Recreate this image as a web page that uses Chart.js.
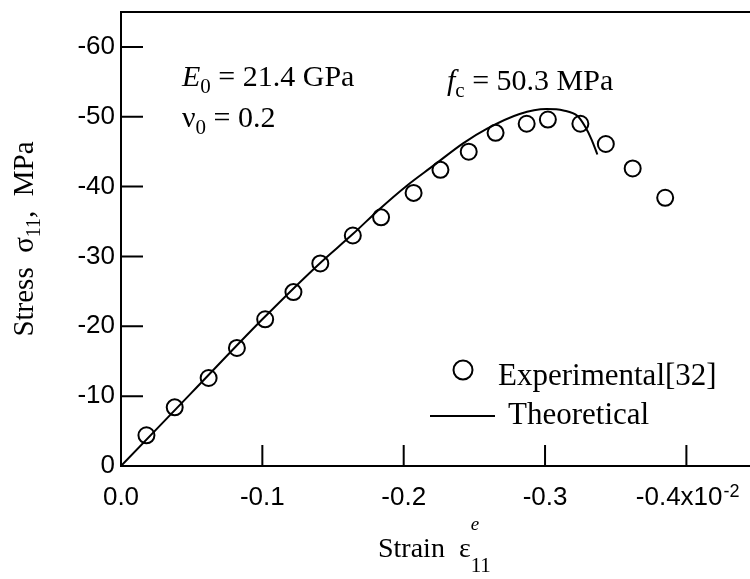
<!DOCTYPE html>
<html>
<head>
<meta charset="utf-8">
<script src="https://cdn.jsdelivr.net/npm/chart.js@4.4.1/dist/chart.umd.min.js"></script>
<style>
  html, body { margin: 0; padding: 0; background: #fff; overflow: hidden; }
  #wrap { width: 750px; height: 579px; overflow: hidden; }
</style>
</head>
<body>
<div id="wrap"><canvas id="stressChart" width="760" height="579"></canvas></div>
<script>
// experimental points (strain x10^-2, stress MPa, both shown as negative on the axes)
const expStrain = [0.018, 0.038, 0.062, 0.082, 0.102, 0.122, 0.141, 0.164, 0.184, 0.207, 0.226, 0.246, 0.265, 0.287, 0.302, 0.325, 0.343, 0.362, 0.385];
const expStress = [4.4, 8.4, 12.6, 16.9, 21.0, 24.9, 29.0, 33.0, 35.6, 39.1, 42.4, 45.0, 47.7, 49.0, 49.6, 49.0, 46.1, 42.6, 38.4];

// theoretical curve
const thStrain = [0, 0.05, 0.10, 0.14, 0.164, 0.183, 0.202, 0.221, 0.242, 0.259, 0.282, 0.301, 0.313, 0.323, 0.328, 0.333, 0.337];
const thStress = [0, 10.5, 21.0, 28.9, 33.2, 36.8, 40.1, 43.0, 46.2, 48.3, 50.4, 51.1, 50.9, 50.1, 48.7, 46.7, 44.6];

// axis ticks
const xTicks = [0, 0.1, 0.2, 0.3, 0.4];
const yTicks = [0, 10, 20, 30, 40, 50, 60];
const lastXText = '-0.4x10';
const lastXLabel = lastXText + '  ';   // room left at the end for the exponent
const xExponent = '-2';

const serif = '"Liberation Serif", "Times New Roman", serif';
const sans = '"Liberation Sans", Arial, sans-serif';

function toPoints(xs, ys) {
    return xs.map((x, i) => ({ x: x, y: ys[i] }));
}

// draws a run of text pieces one after another, each with its own font and vertical shift
function drawRich(ctx, parts, x, y) {
    let cx = x;
    parts.forEach(p => {
        ctx.font = p.font;
        ctx.fillText(p.t, cx, y + (p.dy || 0));
        if (!p.noAdvance) cx += ctx.measureText(p.t).width;
    });
    return cx - x;
}

function richWidth(ctx, parts) {
    let w = 0;
    parts.forEach(p => {
        ctx.font = p.font;
        if (!p.noAdvance) w += ctx.measureText(p.t).width;
    });
    return w;
}

const decorPlugin = {
    id: 'decor',
    afterDraw(chart) {
        const ctx = chart.ctx;
        const area = chart.chartArea;
        const xs = chart.scales.x;
        const ys = chart.scales.y;
        ctx.save();
        ctx.strokeStyle = '#000';
        ctx.fillStyle = '#000';
        ctx.lineWidth = 2;

        // top frame line
        ctx.beginPath();
        ctx.moveTo(area.left, area.top);
        ctx.lineTo(chart.width, area.top);
        ctx.stroke();

        // inward tick marks
        ctx.beginPath();
        xTicks.forEach(v => {
            if (v === 0) return;
            const px = xs.getPixelForValue(v);
            ctx.moveTo(px, area.bottom);
            ctx.lineTo(px, area.bottom - 21);
        });
        yTicks.forEach(v => {
            if (v === 0) return;
            const py = ys.getPixelForValue(v);
            ctx.moveTo(area.left, py);
            ctx.lineTo(area.left + 22, py);
        });
        ctx.stroke();

        ctx.textBaseline = 'alphabetic';
        ctx.textAlign = 'left';

        // exponent of the last x tick label
        ctx.font = '26px ' + sans;
        const labelLeft = xs.getPixelForValue(xTicks[xTicks.length - 1]) - ctx.measureText(lastXLabel).width / 2;
        const expX = labelLeft + ctx.measureText(lastXText).width + 1;
        ctx.font = '18px ' + sans;
        ctx.fillText(xExponent, expX, 497);

        // y axis title
        const yParts = [
            { t: 'Stress  \u03c3', font: '29px ' + serif },
            { t: '11', font: '20px ' + serif, dy: 7 },
            { t: ',  MPa', font: '29px ' + serif }
        ];
        ctx.save();
        ctx.translate(33, (area.top + area.bottom) / 2);
        ctx.rotate(-Math.PI / 2);
        drawRich(ctx, yParts, -richWidth(ctx, yParts) / 2, 0);
        ctx.restore();

        // x axis title
        const xParts = [
            { t: 'Strain  \u03b5', font: '28px ' + serif },
            { t: 'e', font: 'italic 19px ' + serif, dy: -27, noAdvance: true },
            { t: '11', font: '21px ' + serif, dy: 15 }
        ];
        drawRich(ctx, xParts, 378, 557);

        // material parameters
        drawRich(ctx, [
            { t: 'E', font: 'italic 30px ' + serif },
            { t: '0', font: '21px ' + serif, dy: 7 },
            { t: ' = 21.4 GPa', font: '30px ' + serif }
        ], 182, 86);
        drawRich(ctx, [
            { t: '\u03bd', font: '30px ' + serif },
            { t: '0', font: '21px ' + serif, dy: 7 },
            { t: ' = 0.2', font: '30px ' + serif }
        ], 182, 127);
        drawRich(ctx, [
            { t: 'f', font: 'italic 30px ' + serif },
            { t: 'c', font: '21px ' + serif, dy: 7 },
            { t: ' = 50.3 MPa', font: '30px ' + serif }
        ], 447, 90);

        // legend
        ctx.beginPath();
        ctx.arc(463, 370, 9.5, 0, Math.PI * 2);
        ctx.stroke();
        ctx.font = '31px ' + serif;
        ctx.fillText('Experimental[32]', 498, 385);
        ctx.beginPath();
        ctx.moveTo(430, 416);
        ctx.lineTo(495, 416);
        ctx.stroke();
        ctx.fillText('Theoretical', 508, 424);

        ctx.restore();
    }
};

const ctx = document.getElementById('stressChart').getContext('2d');
const stressChart = new Chart(ctx, {
    type: 'scatter',
    data: {
        datasets: [
            {
                label: 'Theoretical',
                data: toPoints(thStrain, thStress),
                showLine: true,
                borderColor: '#000',
                borderWidth: 2,
                pointRadius: 0,
                cubicInterpolationMode: 'monotone',
                fill: false
            },
            {
                label: 'Experimental[32]',
                data: toPoints(expStrain, expStress),
                showLine: false,
                pointStyle: 'circle',
                pointRadius: 8,
                pointBorderWidth: 2,
                pointBorderColor: '#000',
                pointBackgroundColor: 'rgba(0,0,0,0)'
            }
        ]
    },
    options: {
        responsive: false,
        animation: false,
        layout: { padding: { top: 12, left: 0, right: 0, bottom: 0 } },
        plugins: {
            legend: { display: false },
            tooltip: { enabled: false }
        },
        scales: {
            x: {
                type: 'linear',
                min: 0,
                max: 0.445,
                afterFit(scale) {
                    scale.height = 113;
                    scale.paddingLeft = 0;
                    scale.paddingRight = 0;
                },
                afterBuildTicks(scale) {
                    scale.ticks = xTicks.map(v => ({ value: v }));
                },
                grid: { display: false, drawTicks: false },
                border: { display: true, color: '#000', width: 2 },
                ticks: {
                    padding: 16,
                    color: '#000',
                    maxRotation: 0,
                    autoSkip: false,
                    font: { family: sans, size: 26 },
                    callback: v => {
                        if (v === 0) return '0.0';
                        if (Math.abs(v - 0.4) < 1e-9) return lastXLabel;
                        return '-' + v.toFixed(1);
                    }
                }
            },
            y: {
                type: 'linear',
                min: 0,
                max: 65,
                afterFit(scale) {
                    scale.width = 121;
                    scale.paddingTop = 0;
                    scale.paddingBottom = 0;
                },
                afterBuildTicks(scale) {
                    scale.ticks = yTicks.map(v => ({ value: v }));
                },
                grid: { display: false, drawTicks: false },
                border: { display: true, color: '#000', width: 2 },
                ticks: {
                    padding: 6,
                    color: '#000',
                    autoSkip: false,
                    font: { family: sans, size: 26 },
                    callback: v => v === 0 ? '0' : '-' + v
                }
            }
        }
    },
    plugins: [decorPlugin]
});
</script>
</body>
</html>
